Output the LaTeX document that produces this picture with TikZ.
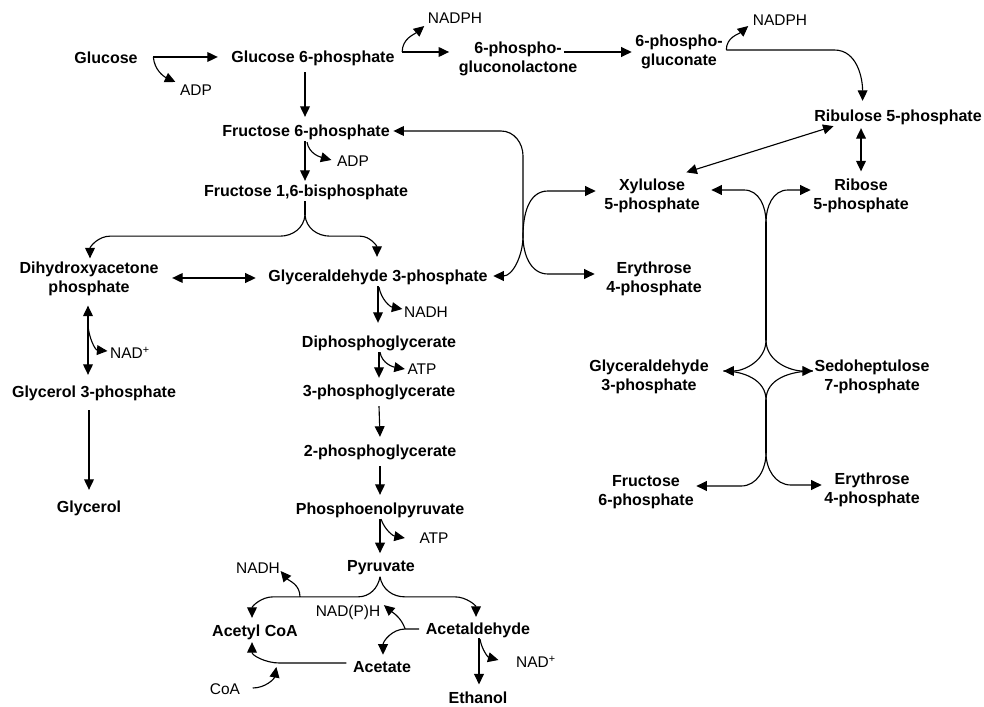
\documentclass[tikz,border=0pt]{standalone}
\usepackage{fontspec}
\setmainfont{Liberation Sans}
\usetikzlibrary{arrows.meta,calc}
\tikzset{
  metab/.style={inner sep=1pt,align=center,font=\fontsize{11.4}{13.5}\selectfont\bfseries},
  cofac/.style={inner sep=1pt,font=\fontsize{11}{13}\selectfont},
  flow/.style={-{Triangle[length=7.5pt,width=7pt]},draw=black,line width=0.8pt},
  duplex/.style={{Triangle[length=7.5pt,width=7pt]}-{Triangle[length=7.5pt,width=7pt]},draw=black,line width=0.8pt},
  plain/.style={draw=black,line width=0.8pt}
}

\begin{document}
\begin{tikzpicture}[x=0.025cm,y=-0.025cm]
  \useasboundingbox (0,0) rectangle (984,707);
  % glycolysis and side branches
  \node[metab] (glc) at (106,58) {Glucose};
  \node[metab] (gsixp) at (313,58) {Glucose 6-phosphate};
  \node[metab] (f6p) at (306,132) {Fructose 6-phosphate};
  \node[metab] (fbp) at (306,192) {Fructose 1,6-bisphosphate};
  \node[metab] (dhap) at (89,279) {Dihydroxyacetone\\phosphate};
  \node[metab] (gap) at (378,277) {Glyceraldehyde 3-phosphate};
  \node[metab] (dpg) at (379,343) {Diphosphoglycerate};
  \node[metab] (pga3) at (379,392) {3-phosphoglycerate};
  \node[metab] (pga2) at (380,452) {2-phosphoglycerate};
  \node[metab] (pep) at (380,510) {Phosphoenolpyruvate};
  \node[metab] (pyr) at (381,568) {Pyruvate};
  \node[metab] (accoa) at (255,632) {Acetyl CoA};
  \node[metab] (acald) at (478,630) {Acetaldehyde};
  \node[metab] (acetate) at (382,667) {Acetate};
  \node[metab] (etoh) at (478,698) {Ethanol};
  \node[metab] (gol3p) at (94,393) {Glycerol 3-phosphate};
  \node[metab] (glycerol) at (89,508) {Glycerol};
  % pentose phosphate side
  \node[metab] (lactone) at (518,59) {6-phospho-\\gluconolactone};
  \node[metab] (pgluc) at (679,52) {6-phospho-\\gluconate};
  \node[metab] (ru5p) at (898,117) {Ribulose 5-phosphate};
  \node[metab] (xu5p) at (652,196) {Xylulose\\5-phosphate};
  \node[metab] (r5p) at (861,196) {Ribose\\5-phosphate};
  \node[metab] (e4p) at (654,279) {Erythrose\\4-phosphate};
  \node[metab] (gapr) at (649,377) {Glyceraldehyde\\3-phosphate};
  \node[metab] (s7p) at (872,377) {Sedoheptulose\\7-phosphate};
  \node[metab] (f6pr) at (646,492) {Fructose\\6-phosphate};
  \node[metab] (e4pr) at (872,490) {Erythrose\\4-phosphate};
  % cofactors
  \node[cofac] (adpa) at (196,90) {ADP};
  \node[cofac] (adpb) at (353,161) {ADP};
  \node[cofac] (nadpha) at (455,18) {NADPH};
  \node[cofac] (nadphb) at (780,20) {NADPH};
  \node[cofac] (nadha) at (426,312) {NADH};
  \node[cofac] (atpa) at (422,369) {ATP};
  \node[cofac] (atpb) at (434,538) {ATP};
  \node[cofac] (nadd) at (130,353) {NAD\textsuperscript{+}};
  \node[cofac] (nadhb) at (258,568) {NADH};
  \node[cofac] (nadph3) at (348,612) {NAD(P)H};
  \node[cofac] (nadc) at (536,662) {NAD\textsuperscript{+}};
  \node[cofac] (coa) at (225,689) {CoA};

  % upper chain
  \draw[flow] ([shift={(14,-1)}]glc.east) -- ([shift={(-12,-1)}]gsixp.west);
  \draw[flow] ([shift={(14,-1)}]glc.east) to[out=-85,in=155] ([shift={(-3,-1)}]adpa.north west);
  \draw[flow] ([shift={(6,-6)}]gsixp.east) -- ([shift={(-8,-7)}]lactone.west);
  \draw[flow] ([shift={(6,-6)}]gsixp.east) to[out=90,in=-140] ([shift={(-2,1)}]nadpha.south west);
  \draw[flow] ([shift={(-15,-7)}]lactone.east) -- ([shift={(-2,0)}]pgluc.west);
  \draw[flow] ([shift={(2,-2)}]pgluc.east) -- ++(108,0) to[out=0,in=90] ([shift={(50,-7)}]ru5p.north west);
  \draw[flow] ([shift={(2,-2)}]pgluc.east) to[out=90,in=-140] ([shift={(-3,-1)}]nadphb.south west);
  \draw[flow] ([shift={(-8,5)}]gsixp.south) -- ([shift={(-1,-6)}]f6p.north);
  \draw[flow] ([shift={(-1,0)}]f6p.south) -- ([shift={(-1,-2)}]fbp.north);
  \draw[flow] ([shift={(1,1)}]f6p.south) to[out=-80,in=165] ([shift={(-4,-1)}]adpb.west);

  % triose split
  \coordinate (fbpj) at ([shift={(-1,14)}]fbp.south);
  \draw[plain] ([shift={(-1,0)}]fbp.south) -- (fbpj);
  \draw[flow] (fbpj) to[out=-95,in=0] ++(-25,21) -- ++(-170,0) to[out=180,in=90] ([shift={(1,-2)}]dhap.north);
  \draw[flow] (fbpj) to[out=-85,in=180] ++(25,21) -- ++(30,0) to[out=0,in=90] ([shift={(-1,-11)}]gap.north);
  \draw[duplex] ([shift={(12,-1)}]dhap.east) -- ([shift={(-11,1)}]gap.west);
  \draw[duplex] ([shift={(-1,8)}]dhap.south) -- ([shift={(-6,-9)}]gol3p.north);
  \draw[flow] ([shift={(-1,28)}]dhap.south) to[out=-85,in=175] ([shift={(-1,-2)}]nadd.west);
  \draw[flow] ([shift={(-5,8)}]gol3p.south) -- ([shift={(0,-9)}]glycerol.north);

  % lower chain
  \draw[flow] (gap.south) -- ([shift={(-1,-11)}]dpg.north);
  \draw[flow] ([shift={(1,1)}]gap.south) to[out=-80,in=170] ([shift={(0,-3)}]nadha.west);
  \draw[flow] (dpg.south) -- ([shift={(0,-5)}]pga3.north);
  \draw[flow] ([shift={(1,0)}]dpg.south) to[out=-80,in=170] ([shift={(-1,0)}]atpa.west);
  \foreach \a/\b in {pga3/pga2,pga2/pep}
    \draw[flow] ([shift={(0,5)}]\a.south) -- ([shift={(0,-6)}]\b.north);
  \draw[flow] (pep.south) -- ([shift={(-1,-6)}]pyr.north);
  \draw[flow] ([shift={(1,0)}]pep.south) to[out=-70,in=170] ([shift={(-13,0)}]atpb.west);

  % pyruvate branches
  \draw[flow] ([shift={(-1,0)}]pyr.south) to[out=-100,in=0] ++(-22,20) -- ++(-85,0) to[out=180,in=90] ([shift={(-3,-5)}]accoa.north);
  \draw[flow] ([shift={(-1,0)}]pyr.south) to[out=-80,in=180] ++(25,20) -- ++(50,0) to[out=0,in=90] ([shift={(-2,-4)}]acald.north);
  \draw[flow] ([shift={(-81,20)}]pyr.south) to[out=90,in=-50] ([shift={(-1,-4)}]nadhb.south east);
  \draw[flow] ([shift={(-5,-1)}]acald.west) -- ++(-14,0) to[out=180,in=90] ([shift={(1,-5)}]acetate.north);
  \draw[flow] ([shift={(-19,-1)}]acald.west) to[out=110,in=-40] ([shift={(2,2)}]nadph3.north east);
  \draw[flow] ([shift={(1,-1)}]acald.south) -- ([shift={(1,-6)}]etoh.north);
  \draw[flow] ([shift={(2,0)}]acald.south) to[out=-80,in=165] ([shift={(-16,-2)}]nadc.west);
  \draw[flow] ([shift={(-5,-4)}]acetate.west) -- ++(-67,0) to[out=180,in=-90] ([shift={(-3,1)}]accoa.south);
  \coordinate (coain) at ([shift={(-75,0)}]acetate.west);
  \draw[flow] ([shift={(11,-1)}]coa.east) to[out=0,in=-100] (coain);

  % transketolase / transaldolase
  \coordinate (tkj) at (523,236);
  \draw[flow] (tkj) -- ++(0,-80) to[out=90,in=0] ++(-22,-25) -- ([shift={(2,-1)}]f6p.east);
  \draw[flow] (tkj) to[out=-90,in=0] ([shift={(4,-1)}]gap.east);
  \draw[flow] (tkj) to[out=90,in=180] ++(25,-45) -- ([shift={(-7,-5)}]xu5p.west);
  \draw[flow] (tkj) to[out=-90,in=180] ++(25,38) -- ([shift={(-10,-5)}]e4p.west);
  \draw[duplex] ([shift={(21,0)}]ru5p.south west) -- ([shift={(-15,-5)}]xu5p.north east);
  \draw[duplex] ([shift={(-37,2)}]ru5p.south) -- ([shift={(0,-6)}]r5p.north);
  \coordinate (tkr) at (766,222);
  \coordinate (astop) at (766,340);
  \coordinate (asbot) at (766,400);
  \coordinate (tal) at (766,453);
  \draw[flow] (tkr) to[out=90,in=0] ++(-22,-32) -- ([shift={(10,-6)}]xu5p.east);
  \draw[flow] (tkr) to[out=90,in=180] ++(22,-32) -- ([shift={(-1,-6)}]r5p.west);
  \draw[plain] (tkr) -- (astop);
  \draw[flow] (astop) to[out=-90,in=0] ([shift={(13,-6)}]gapr.east);
  \draw[flow] (astop) to[out=-90,in=180] ([shift={(0,-6)}]s7p.west);
  \draw[plain] (asbot) to[out=90,in=0] ([shift={(13,-6)}]gapr.east);
  \draw[plain] (asbot) to[out=90,in=180] ([shift={(0,-6)}]s7p.west);
  \draw[plain] (asbot) -- (tal);
  \draw[flow] (tal) to[out=-90,in=0] ++(-25,33) -- ([shift={(1,-6)}]f6pr.east);
  \draw[flow] (tal) to[out=-90,in=180] ++(25,32) -- ([shift={(-1,-5)}]e4pr.west);
\end{tikzpicture}
\end{document}
